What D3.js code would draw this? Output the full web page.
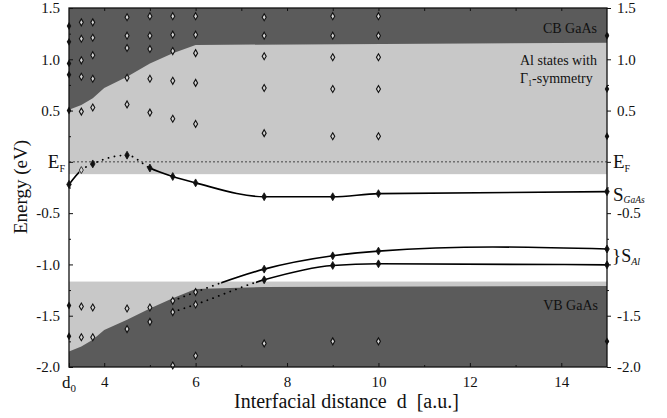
<!DOCTYPE html>
<html>
<head>
<meta charset="utf-8">
<script src="https://cdn.jsdelivr.net/npm/d3@7"></script>
<style>
  body { margin: 0; background: #fff; }
  svg text { font-family: "Liberation Serif", "DejaVu Serif", serif; fill: #111; }
</style>
</head>
<body>
<div id="chart"></div>
<script>
// interfacial distance of the first column
var d0 = 3.23;

// band edges
var cbEdgeD = [d0, 3.5, 3.75, 4, 4.5, 5, 5.5, 6, 15];
var cbEdgeE = [0.507, 0.555, 0.62, 0.72, 0.83, 0.96, 1.06, 1.14, 1.16];
var vbEdgeD = [d0, 3.5, 3.75, 4, 4.5, 5, 5.5, 6, 7.5, 15];
var vbEdgeE = [-1.85, -1.80, -1.735, -1.64, -1.54, -1.43, -1.33, -1.24, -1.22, -1.21];
var alBandTop = -0.12;     // lower end of the upper light band
var alBandBottom = -1.167; // upper end of the lower light band

// computed states (open diamonds) by column
var stateD = [3.5, 3.75, 4.5, 5, 5.5, 6, 7.5, 9, 10];
var stateE = [
  [1.36, 1.20, 0.99, 0.83, 0.49, -1.41, -1.71],
  [1.36, 1.21, 1.04, 0.81, 0.53, -1.42, -1.71],
  [1.41, 1.23, 1.11, 0.82, 0.56, -1.43, -1.63],
  [1.42, 1.23, 1.10, 0.81, 0.48, -1.42, -1.56],
  [1.42, 1.24, 1.08, 0.79, 0.42, -1.355, -1.465, -1.985],
  [1.42, 1.24, 1.06, 0.77, 0.37, -1.27, -1.39, -1.89],
  [1.41, 1.23, 1.03, 0.72, 0.28, -1.77],
  [1.42, 1.23, 1.02, 0.71, 0.25, -1.75],
  [1.42, 1.23, 1.02, 0.71, 0.25, -1.75]
];
// states sitting on the frame
var edgeD = [d0, 15];
var edgeE = [
  [1.325, 1.17, 0.96, 0.85, 0.5, -1.40, -1.70],
  [1.23, 0.71, 0.25, -1.75]
];

// surface state curves
var sGaAsD = [d0, 3.5, 3.75, 4.5, 5, 5.5, 6, 7.5, 9, 10, 15];
var sGaAsE = [-0.22, -0.08, -0.02, 0.065, -0.06, -0.143, -0.205, -0.34, -0.34, -0.31, -0.29];
var sAlUpD = [5.5, 6, 7.5, 9, 10, 12.5, 15];
var sAlUpE = [-1.355, -1.27, -1.046, -0.916, -0.87, -0.83, -0.85];
var sAlLoD = [5.5, 6, 7.5, 9, 10, 15];
var sAlLoE = [-1.465, -1.39, -1.15, -1.01, -0.994, -1.004];

// where each curve is dotted (the rest is solid)
var sGaAsDotted = [[3.5, 5]];
var sAlUpDotted = [[5.5, 6.56]];
var sAlLoDotted = [[5.5, 7.32]];

var xTicks = [d0, 4, 6, 8, 10, 12, 14];
var xMinor = [5, 7, 9, 11, 13];
var yTicksLeft = [-2, -1.5, -1, -0.5, 0, 0.5, 1, 1.5];
var yTicksRight = [-2, -1.5, -1, -0.5, 0, 0.5, 1, 1.5];
var yRightLabelled = [-2, -1.5, -0.5, 0.5, 1, 1.5];
var yMinor = [-1.75, -1.25, -0.75, -0.25, 0.25, 0.75, 1.25];

var svgWidth = 667, svgHeight = 418;
var margin = { top: 8, right: 60, bottom: 51, left: 69 };
var width = svgWidth - margin.left - margin.right;
var height = svgHeight - margin.top - margin.bottom;

var dark = "#5b5b5b", light = "#c8c8c8";
var serif = '"Liberation Serif", "DejaVu Serif", serif';

var svg = d3.select("#chart").append("svg")
  .attr("width", svgWidth).attr("height", svgHeight);
var g = svg.append("g").attr("transform", `translate(${margin.left},${margin.top})`);

var x = d3.scaleLinear().domain([d0, 15]).range([0, width]);
var y = d3.scaleLinear().domain([-2, 1.5]).range([height, 0]);

function pairs(ds, es) { return ds.map(function (d, i) { return [d, es[i]]; }); }

// light bands
g.append("rect").attr("x", 0).attr("width", width)
  .attr("y", y(1.5)).attr("height", y(alBandTop) - y(1.5)).attr("fill", light);
g.append("rect").attr("x", 0).attr("width", width)
  .attr("y", y(alBandBottom)).attr("height", y(-2) - y(alBandBottom)).attr("fill", light);

// dark bulk bands
g.append("path").datum(pairs(cbEdgeD, cbEdgeE))
  .attr("fill", dark)
  .attr("d", d3.area().x(function (d) { return x(d[0]); }).y0(y(1.5)).y1(function (d) { return y(d[1]); }));
g.append("path").datum(pairs(vbEdgeD, vbEdgeE))
  .attr("fill", dark)
  .attr("d", d3.area().x(function (d) { return x(d[0]); }).y0(y(-2)).y1(function (d) { return y(d[1]); }));

// Fermi level
g.append("line").attr("x1", 0).attr("x2", width).attr("y1", y(0)).attr("y2", y(0))
  .attr("stroke", "#222").attr("stroke-width", 0.8).attr("stroke-dasharray", "2,2");

// band labels
g.append("text").attr("x", x(15) - 10).attr("y", 25).attr("text-anchor", "end")
  .style("font-size", "14px").text("CB GaAs");
g.append("text").attr("x", x(15) - 87).attr("y", 57).style("font-size", "14px").text("Al states with");
var gt = g.append("text").attr("x", x(15) - 87).attr("y", 75).style("font-size", "14px");
gt.append("tspan").text("Γ");
gt.append("tspan").attr("dy", 3).style("font-size", "8px").text("1");
gt.append("tspan").attr("dy", -3).text("-symmetry");
g.append("text").attr("x", x(15) - 9).attr("y", 302).attr("text-anchor", "end")
  .style("font-size", "14px").text("VB GaAs");

// curves: solid and dotted parts through clip rectangles
var line = d3.line().x(function (d) { return x(d[0]); }).y(function (d) { return y(d[1]); })
  .curve(d3.curveMonotoneX);
var defs = svg.append("defs");

function drawCurve(name, ds, es, dotted) {
  var pts = pairs(ds, es);
  var solidRanges = [];
  var start = ds[0];
  dotted.forEach(function (r) {
    if (r[0] > start) solidRanges.push([start, r[0]]);
    start = r[1];
  });
  if (start < ds[ds.length - 1]) solidRanges.push([start, ds[ds.length - 1]]);

  function clip(id, ranges) {
    var c = defs.append("clipPath").attr("id", id);
    ranges.forEach(function (r) {
      c.append("rect").attr("x", x(r[0]) - (r[0] === d0 ? 2 : 0)).attr("y", -10)
        .attr("width", x(r[1]) - x(r[0]) + (r[1] === 15 ? 2 : 0)).attr("height", height + 20);
    });
  }
  clip(name + "-solid", solidRanges);
  clip(name + "-dot", dotted);

  g.append("path").datum(pts).attr("d", line).attr("fill", "none")
    .attr("stroke", "#000").attr("stroke-width", 1.6)
    .attr("clip-path", `url(#${name}-solid)`);
  g.append("path").datum(pts).attr("d", line).attr("fill", "none")
    .attr("stroke", "#000").attr("stroke-width", 1.8).attr("stroke-linecap", "round")
    .attr("stroke-dasharray", "0.1,6")
    .attr("clip-path", `url(#${name}-dot)`);
}
drawCurve("sgaas", sGaAsD, sGaAsE, sGaAsDotted);
drawCurve("salup", sAlUpD, sAlUpE, sAlUpDotted);
drawCurve("sallo", sAlLoD, sAlLoE, sAlLoDotted);

// open diamonds
var openSym = d3.symbol().type(d3.symbolDiamond).size(14);
stateD.forEach(function (d, i) {
  g.selectAll(null).data(stateE[i]).enter().append("path")
    .attr("transform", function (e) { return `translate(${x(d)},${y(e)})`; })
    .attr("d", openSym).attr("fill", "#d6d6d6").attr("stroke", "#111").attr("stroke-width", 1.1);
});

// filled markers on the frame and on the surface state curves
var fillSym = d3.symbol().type(d3.symbolDiamond).size(18);
edgeD.forEach(function (d, i) {
  g.selectAll(null).data(edgeE[i]).enter().append("path")
    .attr("transform", function (e) { return `translate(${x(d)},${y(e)})`; })
    .attr("d", fillSym).attr("fill", "#111");
});
var curveMarks = pairs(sGaAsD, sGaAsE)
  .concat(pairs(sAlUpD, sAlUpE).filter(function (p) { return p[0] >= 7.5 && p[0] !== 12.5; }))
  .concat(pairs(sAlLoD, sAlLoE).filter(function (p) { return p[0] >= 7.5; }));
g.selectAll(".cm").data(curveMarks).enter().append("path")
  .attr("transform", function (p) { return `translate(${x(p[0])},${y(p[1])})`; })
  .attr("d", function (p) { return p[0] === 3.5 ? openSym() : fillSym(); })
  .attr("fill", function (p) { return p[0] === 3.5 ? "#d6d6d6" : "#111"; })
  .attr("stroke", "#111").attr("stroke-width", 0.8);

// frame
g.append("rect").attr("width", width).attr("height", height)
  .attr("fill", "none").attr("stroke", "#111").attr("stroke-width", 1.3);

// axes
var fmt = function (v) { return v.toFixed(1); };
g.append("g").call(d3.axisLeft(y).tickValues(yTicksLeft).tickSize(-4).tickPadding(9)
  .tickFormat(function (v) { return v === 0 ? "" : fmt(v); }));
g.append("g").attr("transform", `translate(${width},0)`)
  .call(d3.axisRight(y).tickValues(yTicksRight).tickSize(4).tickPadding(6)
    .tickFormat(function (v) { return yRightLabelled.indexOf(v) >= 0 ? fmt(v) : ""; }));
g.append("g").attr("transform", `translate(0,${height})`)
  .call(d3.axisBottom(x).tickValues(xTicks).tickSize(-4).tickPadding(9)
    .tickFormat(function (v) { return v === d0 ? "" : v; }));
g.append("g").call(d3.axisTop(x).tickValues(xTicks.slice(1).concat(xMinor)).tickSize(-3).tickFormat(""));

g.append("g").call(d3.axisLeft(y).tickValues(yMinor).tickSize(-2).tickFormat(""));
g.append("g").attr("transform", `translate(${width},0)`)
  .call(d3.axisRight(y).tickValues(yMinor).tickSize(2).tickFormat(""));
g.append("g").attr("transform", `translate(0,${height})`)
  .call(d3.axisBottom(x).tickValues(xMinor).tickSize(-2).tickFormat(""));

g.selectAll(".domain").remove();
g.selectAll(".tick line").attr("stroke", "#111");
g.selectAll(".tick text").style("font-family", serif).style("font-size", "15px").attr("fill", "#111");

// E_F and d0 tick labels
function ef(sel, xx, anchor) {
  var t = sel.append("text").attr("x", xx).attr("y", y(0) + 6).attr("text-anchor", anchor).style("font-size", "19px");
  t.append("tspan").text("E");
  t.append("tspan").attr("dy", 4).style("font-size", "10px").text("F");
}
ef(g, -4, "end");
ef(g, width + 6, "start");

var d0t = g.append("text").attr("x", x(d0) - 7).attr("y", height + 21).style("font-size", "17px");
d0t.append("tspan").text("d");
d0t.append("tspan").attr("dy", 4).style("font-size", "11px").text("0");

// surface state labels on the right
var sg = g.append("text").attr("x", width + 6).attr("y", 193).style("font-size", "19px");
sg.append("tspan").text("S");
sg.append("tspan").attr("dy", 2).style("font-size", "9.5px").style("font-style", "italic").text("GaAs");

var sa = g.append("text").attr("x", width + 5).attr("y", 254).style("font-size", "18px");
sa.append("tspan").style("font-size", "19px").text("}");
sa.append("tspan").text("S");
sa.append("tspan").attr("dy", 3).style("font-size", "10px").style("font-style", "italic").text("Al");

// axis titles
g.append("text").attr("transform", `translate(${-42},${y(-0.245)}) rotate(-90)`)
  .attr("text-anchor", "middle").style("font-size", "19px").text("Energy (eV)");
g.append("text").attr("x", x(9.3)).attr("y", height + 41).attr("text-anchor", "middle")
  .style("font-size", "20px").attr("xml:space", "preserve").text("Interfacial distance  d  [a.u.]");
</script>
</body>
</html>
